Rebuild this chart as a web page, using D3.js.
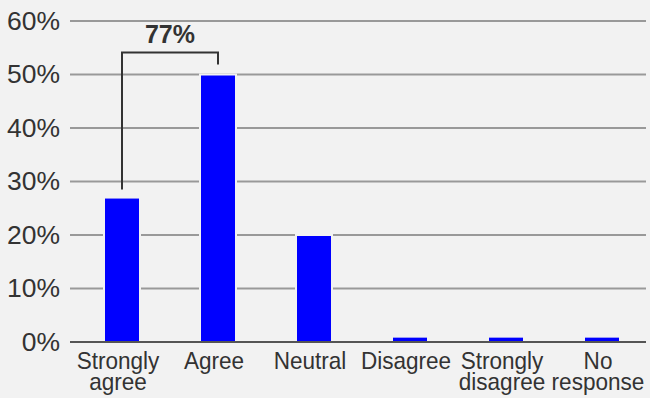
<!DOCTYPE html>
<html>
<head>
<meta charset="utf-8">
<script src="https://cdn.jsdelivr.net/npm/d3@7"></script>
<style>
  html, body { margin: 0; padding: 0; background: #f2f2f2; }
  svg { display: block; font-family: "Liberation Sans", Arial, Helvetica, sans-serif; }
</style>
</head>
<body>
<div id="chart"></div>
<script>
const categories = ["Strongly agree", "Agree", "Neutral", "Disagree", "Strongly disagree", "No response"];
const values = [0.27, 0.50, 0.20, 0.01, 0.01, 0.01];
const yTicks = [0, 0.1, 0.2, 0.3, 0.4, 0.5, 0.6];
const bracketLabel = "77%";

const width = 650, height = 398;

const svg = d3.select("#chart")
    .append("svg")
    .attr("width", width)
    .attr("height", height);

svg.append("rect")
    .attr("width", width)
    .attr("height", height)
    .attr("fill", "#f2f2f2");

// Scales
const xScale = d3.scaleBand()
    .domain(categories)
    .range([74, 650])
    .paddingInner(0.625)
    .paddingOuter(0.3125);

const yScale = d3.scaleLinear()
    .domain([0, 0.6])
    .range([342, 21]);

// Grid lines
svg.selectAll(".grid-line")
    .data(yTicks.filter(d => d > 0))
    .enter()
    .append("line")
    .attr("class", "grid-line")
    .attr("x1", 70)
    .attr("x2", 646)
    .attr("y1", d => yScale(d))
    .attr("y2", d => yScale(d))
    .style("stroke", "#999")
    .style("stroke-width", 2);

// Bars
svg.selectAll(".bar")
    .data(categories)
    .enter()
    .append("rect")
    .attr("class", "bar")
    .attr("x", d => xScale(d))
    .attr("y", (d, i) => yScale(values[i]))
    .attr("width", xScale.bandwidth())
    .attr("height", (d, i) => yScale(0) - yScale(values[i]))
    .attr("fill", "#0000ff")
    .attr("stroke", "#f2f2f2")
    .attr("stroke-width", 2);

// Baseline
svg.append("line")
    .attr("x1", 70)
    .attr("x2", 646)
    .attr("y1", yScale(0))
    .attr("y2", yScale(0))
    .style("stroke", "#555")
    .style("stroke-width", 2);

// Y axis labels
const yAxis = svg.append("g")
    .attr("class", "y-axis")
    .attr("transform", "translate(60,0)")
    .call(d3.axisLeft(yScale).tickValues(yTicks).tickSize(0).tickPadding(0).tickFormat(d3.format(".0%")));
yAxis.select(".domain").remove();
yAxis.selectAll("text")
    .attr("transform", "scale(1.06,1)")
    .style("font-size", "25px")
    .style("font-family", "'Liberation Sans', Arial, sans-serif")
    .style("fill", "#333");

// X axis labels (wrapped onto two lines)
const xAxis = svg.append("g")
    .attr("class", "x-axis")
    .attr("transform", `translate(-4, ${yScale(0)})`)
    .call(d3.axisBottom(xScale).tickSize(0).tickPadding(0));
xAxis.select(".domain").remove();
xAxis.selectAll("text")
    .attr("transform", "scale(0.94,1)")
    .style("font-size", "24px")
    .style("font-family", "'Liberation Sans', Arial, sans-serif")
    .style("fill", "#333")
    .attr("dy", null)
    .attr("y", 0)
    .each(function(d) {
        const words = d.split(" ");
        const t = d3.select(this).text(null);
        words.forEach((w, i) => {
            t.append("tspan")
                .attr("x", 0)
                .attr("y", 27 + i * 21)
                .text(w);
        });
    });

// Bracket over first two bars
const xa = xScale(categories[0]) + xScale.bandwidth() / 2;
const xb = xScale(categories[1]) + xScale.bandwidth() / 2;
const yTop = yScale(values[1]) - 22;

svg.append("path")
    .attr("d", `M${xa},${yScale(values[0]) - 8}V${yTop}H${xb}V${yScale(values[1]) - 10}`)
    .attr("fill", "none")
    .attr("stroke", "#333")
    .attr("stroke-width", 2);

svg.append("text")
    .attr("x", (xa + xb) / 2)
    .attr("y", yTop - 10)
    .attr("text-anchor", "middle")
    .style("font-size", "25px")
    .style("font-weight", "bold")
    .style("fill", "#333")
    .text(bracketLabel);
</script>
</body>
</html>
